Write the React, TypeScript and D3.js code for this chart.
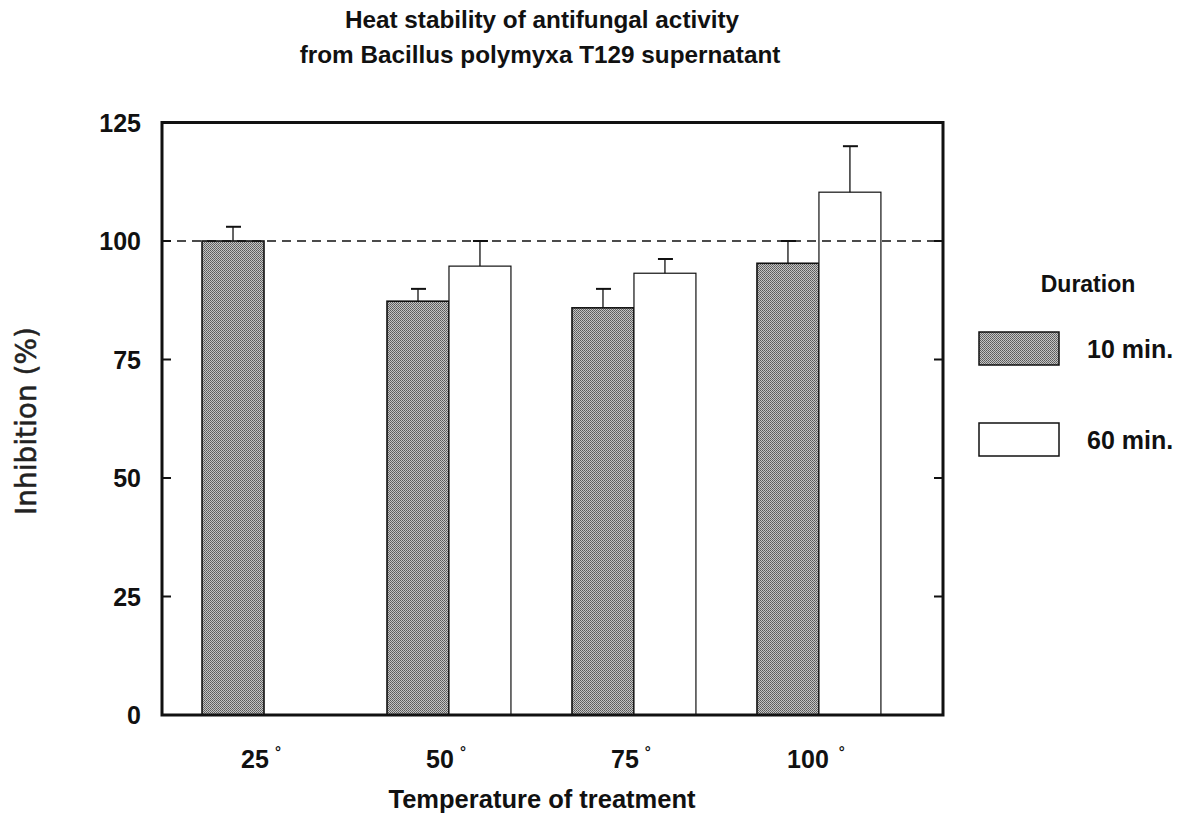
import React from "react";
import * as d3 from "d3";

const categories = ["25", "50", "75", "100"];
const durations = ["10 min.", "60 min."];
const tenMin: (number | null)[] = [100, 87.3, 85.9, 95.3];
const tenMinErr: (number | null)[] = [3, 2.6, 4, 4.7];
const sixtyMin: (number | null)[] = [null, 94.7, 93.2, 110.3];
const sixtyMinErr: (number | null)[] = [null, 5.3, 3, 9.7];
const yTicks = [0, 25, 50, 75, 100, 125];
const referenceLine = 100;

const W = 1188;
const H = 823;
const L = 162, R = 943, T = 122.5, B = 715;
const BOLD = "'Liberation Sans', Arial, Helvetica, sans-serif";

export default function App() {
  const y = d3.scaleLinear().domain([0, 125]).range([B, T]);
  const x = d3
    .scaleBand<string>()
    .domain(categories)
    .range([L, R])
    .paddingInner(0.33)
    .paddingOuter(0.276)
    .align(0.392);
  const xs = d3.scaleBand<string>().domain(durations).range([0, x.bandwidth()]).padding(0);
  const series = [
    { key: durations[0], vals: tenMin, errs: tenMinErr, fill: "url(#stipple)", sw: 1.6 },
    { key: durations[1], vals: sixtyMin, errs: sixtyMinErr, fill: "#ffffff", sw: 1.2 },
  ];
  return (
    <svg width={W} height={H} style={{ display: "block", margin: "-8px" }}>
      <defs>
        <pattern id="stipple" width={2} height={2} patternUnits="userSpaceOnUse">
          <rect width={2} height={2} fill="#c4c4c4" />
          <rect x={0} y={0} width={1} height={1} fill="#5a5a5a" />
          <rect x={1} y={1} width={1} height={1} fill="#6a6a6a" />
        </pattern>
      </defs>
      <rect width={W} height={H} fill="#fff" />
      <text x={542} y={28} textAnchor="middle" fontFamily={BOLD} fontWeight="bold" fontSize={24.3} fill="#111">
        Heat stability of antifungal activity
      </text>
      <text x={540} y={63} textAnchor="middle" fontFamily={BOLD} fontWeight="bold" fontSize={24.3} fill="#111">
        from Bacillus polymyxa T129 supernatant
      </text>

      {/* bars */}
      {series.map((s) =>
        categories.map((c, i) => {
          const v = s.vals[i];
          if (v == null) return null;
          const x0 = (x(c) as number) + (xs(s.key) as number);
          const bw = xs.bandwidth();
          const e = s.errs[i] ?? 0;
          const cx = x0 + bw / 2;
          return (
            <g key={s.key + c}>
              <rect x={x0} y={y(v)} width={bw} height={B - y(v)} fill={s.fill} stroke="#111" strokeWidth={s.sw} />
              <line x1={cx} x2={cx} y1={y(v)} y2={y(v + e)} stroke="#111" strokeWidth={1.3} />
              <line x1={cx - 7} x2={cx + 8} y1={y(v + e)} y2={y(v + e)} stroke="#111" strokeWidth={2} />
            </g>
          );
        })
      )}

      {/* reference line */}
      <line x1={L} x2={R} y1={y(referenceLine)} y2={y(referenceLine)} stroke="#111" strokeWidth={1.5} strokeDasharray="9,6" />

      {/* frame */}
      <rect x={L} y={T} width={R - L} height={B - T} fill="none" stroke="#111" strokeWidth={3} />

      {/* y ticks */}
      {yTicks.map((t) => (
        <g key={t}>
          <line x1={L} x2={L + 9} y1={y(t)} y2={y(t)} stroke="#111" strokeWidth={2} />
          <line x1={R - 9} x2={R} y1={y(t)} y2={y(t)} stroke="#111" strokeWidth={2} />
          <text x={141} y={y(t)} dy="0.36em" textAnchor="end" fontFamily={BOLD} fontWeight="bold" fontSize={25} fill="#111">
            {t}
          </text>
        </g>
      ))}

      {/* x labels */}
      {categories.map((c) => (
        <text
          key={c}
          x={(x(c) as number) + x.bandwidth() / 2 - 3}
          y={768}
          textAnchor="middle"
          fontFamily={BOLD}
          fontWeight="bold"
          fontSize={25}
          fill="#111"
        >
          {c}
          <tspan dx={c === "100" ? 10 : 6} dy={-11} fontSize={15}>°</tspan>
        </text>
      ))}

      <text x={542} y={808} textAnchor="middle" fontFamily={BOLD} fontWeight="bold" fontSize={25.5} fill="#111">
        Temperature of treatment
      </text>

      <text
        transform={`translate(36, 421) rotate(-90)`}
        textAnchor="middle"
        fontFamily="'DejaVu Sans', Verdana, sans-serif"
        fontSize={28}
        fill="#222"
        stroke="#222"
        strokeWidth={0.5}
      >
        Inhibition (%)
      </text>

      {/* legend */}
      <text x={1088} y={292} textAnchor="middle" fontFamily={BOLD} fontWeight="bold" fontSize={23} fill="#111">
        Duration
      </text>
      {series.map((s, i) => {
        const by = 332 + i * 91;
        return (
          <g key={s.key}>
            <rect x={979} y={by} width={80} height={33} fill={s.fill} stroke="#111" strokeWidth={1.5} />
            <text x={1087} y={by + 26} fontFamily={BOLD} fontWeight="bold" fontSize={25} fill="#111">
              {s.key}
            </text>
          </g>
        );
      })}
    </svg>
  );
}
